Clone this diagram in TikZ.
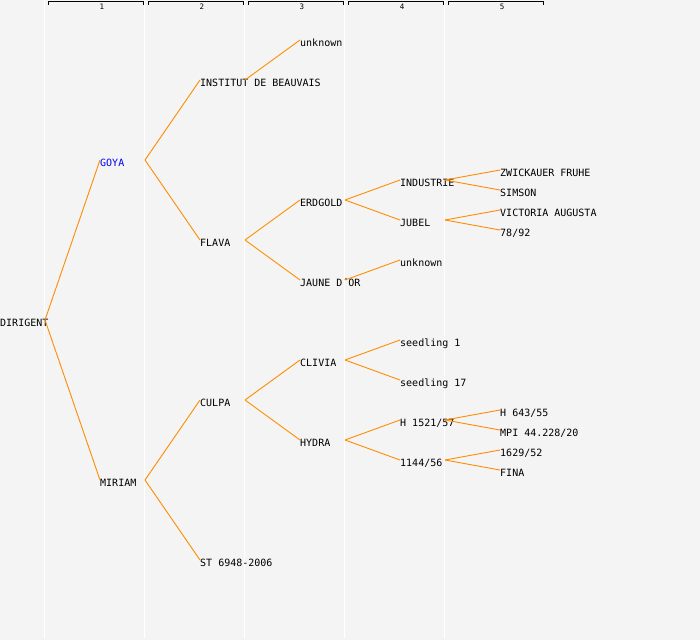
\documentclass[tikz,border=0pt]{standalone}
\usepackage{fontspec}
\setmonofont{DejaVu Sans Mono}
\definecolor{pedline}{HTML}{FF8C00}
\definecolor{pedbg}{HTML}{F4F4F4}

\begin{document}
\begin{tikzpicture}[x=1pt,y=-1pt]
		\fill[pedbg] (0,0) rectangle (700,640);
		\useasboundingbox (0,0) rectangle (700,640);
		\foreach \i in {0,...,4} {
		    \coordinate (c\i) at ({100*\i+45},0);
		    \draw[white,line width=1pt] ({100*\i+44.5},0) -- ({100*\i+44.5},638);
		}
		\foreach \i in {1,...,5} {
		    \draw[black,line width=0.8pt] ({100*\i-52},4.5) -- ({100*\i-52},1.5) -- ({100*\i+43},1.5) -- ({100*\i+43},4.5);
		    \node[font=\ttfamily\fontsize{7.5}{8}\selectfont,inner sep=0pt] (h\i) at ({100*\i+2},6.5) {\i};
		}

		\begin{scope}[every node/.style={anchor=west,inner sep=0pt,text height=12pt,text depth=0pt,
		              font=\ttfamily\fontsize{10}{12}\selectfont}]
		    \node (dirigent) at (0,320) {DIRIGENT};
		    \node[text=blue] (goya) at (100,160) {GOYA};
		    \node (miriam) at (100,480) {MIRIAM};
		    \node (institut) at (200,80) {INSTITUT DE BEAUVAIS};
		    \node (flava) at (200,240) {FLAVA};
		    \node (culpa) at (200,400) {CULPA};
		    \node (st) at (200,560) {ST 6948-2006};
		    \node (unknownA) at (300,40) {unknown};
		    \node (erdgold) at (300,200) {ERDGOLD};
		    \node (jaune) at (300,280) {JAUNE D´OR};
		    \node (clivia) at (300,360) {CLIVIA};
		    \node (hydra) at (300,440) {HYDRA};
		    \node (industrie) at (400,180) {INDUSTRIE};
		    \node (jubel) at (400,220) {JUBEL};
		    \node (unknownB) at (400,260) {unknown};
		    \node (seedlingA) at (400,340) {seedling 1};
		    \node (seedlingB) at (400,380) {seedling 17};
		    \node (hA) at (400,420) {H 1521/57};
		    \node (n1144) at (400,460) {1144/56};
		    \node (zwickauer) at (500,170) {ZWICKAUER FRUHE};
		    \node (simson) at (500,190) {SIMSON};
		    \node (victoria) at (500,210) {VICTORIA AUGUSTA};
		    \node (n7892) at (500,230) {78/92};
		    \node (hB) at (500,410) {H 643/55};
		    \node (mpi) at (500,430) {MPI 44.228/20};
		    \node (n1629) at (500,450) {1629/52};
		    \node (fina) at (500,470) {FINA};
		\end{scope}

		\begin{scope}[every edge/.style={draw=pedline,line width=0.9pt}]
		    \path (c0 |- dirigent.west) edge (goya.west) edge (miriam.west);
		    \path (c1 |- goya.west) edge (institut.west) edge (flava.west);
		    \path (c1 |- miriam.west) edge (culpa.west) edge (st.west);
		    \path (c2 |- institut.west) edge (unknownA.west);
		    \path (c2 |- flava.west) edge (erdgold.west) edge (jaune.west);
		    \path (c2 |- culpa.west) edge (clivia.west) edge (hydra.west);
		    \path (c3 |- erdgold.west) edge (industrie.west) edge (jubel.west);
		    \path (c3 |- jaune.west) edge (unknownB.west);
		    \path (c3 |- clivia.west) edge (seedlingA.west) edge (seedlingB.west);
		    \path (c3 |- hydra.west) edge (hA.west) edge (n1144.west);
		    \path (c4 |- industrie.west) edge (zwickauer.west) edge (simson.west);
		    \path (c4 |- jubel.west) edge (victoria.west) edge (n7892.west);
		    \path (c4 |- hA.west) edge (hB.west) edge (mpi.west);
		    \path (c4 |- n1144.west) edge (n1629.west) edge (fina.west);
		\end{scope}
\end{tikzpicture}
\end{document}
